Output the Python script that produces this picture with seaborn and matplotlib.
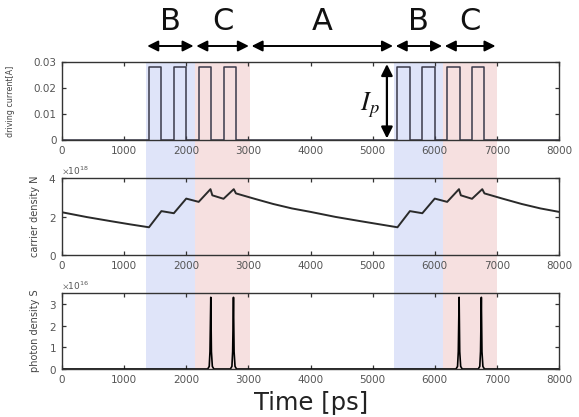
import numpy as np
import pandas as pd
import seaborn as sns
import matplotlib
matplotlib.use("Agg")
import matplotlib.pyplot as plt
import matplotlib.transforms as mtransforms
from matplotlib.patches import Rectangle

# ---------------- data ----------------
# driving current pulses (edges in ps, amplitude in A)
pulse_t = [0, 1400, 1400, 1600, 1600, 1800, 1800, 2000, 2000, 2200, 2200, 2400, 2400,
           2600, 2600, 2800, 2800, 5400, 5400, 5600, 5600, 5800, 5800, 6000, 6000,
           6200, 6200, 6400, 6400, 6600, 6600, 6800, 6800, 8000]
pulse_i = [0, 0, 0.028, 0.028, 0, 0, 0.028, 0.028, 0, 0, 0.028, 0.028, 0,
           0, 0.028, 0.028, 0, 0, 0.028, 0.028, 0, 0, 0.028, 0.028, 0,
           0, 0.028, 0.028, 0, 0, 0.028, 0.028, 0, 0]

# carrier density N (units of 1e18)
carrier_t = [0, 400, 800, 1100, 1400, 1600, 1800, 2000, 2200, 2390, 2420, 2600, 2765, 2800,
             3100, 3400, 3700, 4000, 4400, 4800, 5100, 5400, 5600, 5800, 6000, 6200, 6390,
             6420, 6600, 6765, 6800, 7100, 7400, 7700, 8000]
carrier_n = [2.22, 1.97, 1.75, 1.59, 1.44, 2.28, 2.17, 2.93, 2.76, 3.42, 3.10, 2.92, 3.42, 3.20,
             2.92, 2.65, 2.42, 2.24, 1.98, 1.76, 1.60, 1.44, 2.28, 2.17, 2.93, 2.76, 3.42,
             3.10, 2.92, 3.42, 3.20, 2.92, 2.65, 2.42, 2.24]

# photon density S (units of 1e16)
photon_t = [0, 2345, 2370, 2382, 2395, 2405, 2420, 2445,
            2710, 2735, 2747, 2760, 2770, 2785, 2810,
            6342, 6367, 6379, 6392, 6402, 6417, 6442,
            6700, 6725, 6737, 6750, 6760, 6775, 6800, 8000]
photon_s = [0, 0, 0.12, 0.8, 3.3, 0.8, 0.12, 0,
            0, 0.12, 0.8, 3.3, 0.8, 0.12, 0,
            0, 0.12, 0.8, 3.3, 0.8, 0.12, 0,
            0, 0.12, 0.8, 3.3, 0.8, 0.12, 0, 0]

# shaded regions (ps)
blue_regions = [(1350, 2140), (5350, 6140)]
red_regions = [(2140, 3030), (6140, 7000)]

# region labels above the plot
region_labels = ["B", "C", "A", "B", "C"]
region_bounds = [(1350, 2140), (2140, 3030), (3030, 5350), (5350, 6140), (6140, 7000)]

x_ticks = [0, 1000, 2000, 3000, 4000, 5000, 6000, 7000, 8000]

# ---------------- figure ----------------
sns.set_style("ticks")
plt.rcParams["font.family"] = ["DejaVu Sans"]
plt.rcParams["mathtext.fontset"] = "stix"

fig = plt.figure(figsize=(5.79, 4.17), dpi=100)
fig.patch.set_facecolor("white")

W, H = 579, 417
def ax_rect(l, r, t, b):
    return [l / W, 1 - b / H, (r - l) / W, (b - t) / H]

ax1 = fig.add_axes(ax_rect(62, 559, 62, 140))
ax2 = fig.add_axes(ax_rect(62, 559, 178, 255))
ax3 = fig.add_axes(ax_rect(62, 559, 293, 369))

line_col = "#2a2a2a"
df1 = pd.DataFrame({"t": pulse_t, "i": pulse_i})
sns.lineplot(data=df1, x="t", y="i", ax=ax1, estimator=None, sort=False,
             color="#3a3a4a", lw=1.1)
df2 = pd.DataFrame({"t": carrier_t, "n": np.array(carrier_n) * 1e18})
sns.lineplot(data=df2, x="t", y="n", ax=ax2, estimator=None, sort=False,
             color=line_col, lw=1.4)
df3 = pd.DataFrame({"t": photon_t, "s": np.array(photon_s) * 1e16})
sns.lineplot(data=df3, x="t", y="s", ax=ax3, estimator=None, sort=False,
             color="black", lw=1.2)

for ax in (ax1, ax2, ax3):
    ax.set_facecolor("none")
    ax.set_xlim(0, 8000)
    ax.set_xticks(x_ticks)
    ax.set_xticklabels([str(v) for v in x_ticks])
    ax.set_xlabel("")
    ax.tick_params(direction="in", top=True, right=True, length=3, width=0.9,
                   labelsize=7.5, labelcolor="#555555", color="#333333", pad=4)
    for s in ax.spines.values():
        s.set_visible(True)
        s.set_color("#333333")
        s.set_linewidth(1.0)

ax1.set_ylim(0, 0.03)
ax1.set_yticks([0, 0.01, 0.02, 0.03])
ax1.set_yticklabels(["0", "0.01", "0.02", "0.03"])
ax1.set_ylabel("driving current[A]", fontsize=5.8, color="#444444")
ax1.yaxis.set_label_coords((15 - 62) / 497, 0.5)

ax2.set_ylim(0, 4e18)
ax2.set_yticks([0, 2e18, 4e18])
ax2.ticklabel_format(axis="y", style="sci", scilimits=(0, 0), useMathText=True)
ax2.yaxis.get_offset_text().set_fontsize(6.5)
ax2.yaxis.get_offset_text().set_color("#555555")
ax2.set_ylabel("carrier density N", fontsize=7, color="#444444")
ax2.yaxis.set_label_coords((40 - 62) / 497, 0.5)

ax3.set_ylim(0, 3.5e16)
ax3.set_yticks([0, 1e16, 2e16, 3e16])
ax3.ticklabel_format(axis="y", style="sci", scilimits=(0, 0), useMathText=True)
ax3.yaxis.get_offset_text().set_fontsize(6.5)
ax3.yaxis.get_offset_text().set_color("#555555")
ax3.set_ylabel("photon density S", fontsize=7, color="#444444")
ax3.yaxis.set_label_coords((40 - 62) / 497, 0.5)

# shaded bands spanning all three panels
trans = mtransforms.blended_transform_factory(ax1.transData, fig.transFigure)
y_bot = 1 - 369 / H
y_top = 1 - 62 / H
for (a, b) in blue_regions:
    fig.add_artist(Rectangle((a, y_bot), b - a, y_top - y_bot, transform=trans,
                             facecolor="#dfe4f9", edgecolor="none", zorder=-1))
for (a, b) in red_regions:
    fig.add_artist(Rectangle((a, y_bot), b - a, y_top - y_bot, transform=trans,
                             facecolor="#f6e0e0", edgecolor="none", zorder=-1))

# region arrows and letters
y_arrow = 1 - 46 / H
y_letter = 1 - 21 / H
for lab, (a, b) in zip(region_labels, region_bounds):
    ax1.annotate("", xy=(b, y_arrow), xytext=(a, y_arrow), xycoords=trans,
                 textcoords=trans, annotation_clip=False,
                 arrowprops=dict(arrowstyle="<|-|>", color="black", lw=1.4,
                                 mutation_scale=16, shrinkA=1, shrinkB=1))
    ax1.text((a + b) / 2, y_letter, lab, transform=trans, ha="center", va="center",
             fontsize=22, color="#111111")

# I_p arrow
ax1.annotate("", xy=(5230, 0.0292), xytext=(5230, 0.0006),
             arrowprops=dict(arrowstyle="<|-|>", color="black", lw=1.6,
                             mutation_scale=17, shrinkA=0, shrinkB=0),
             annotation_clip=False)
ax1.text(4950, 0.0135, "$I_p$", fontsize=19, ha="center", va="center", color="#111111")

fig.text(311 / W, 1 - 403 / H, "Time [ps]", fontsize=17.5, ha="center", va="center",
         color="#222222")

fig.savefig("out.png", dpi=100)
